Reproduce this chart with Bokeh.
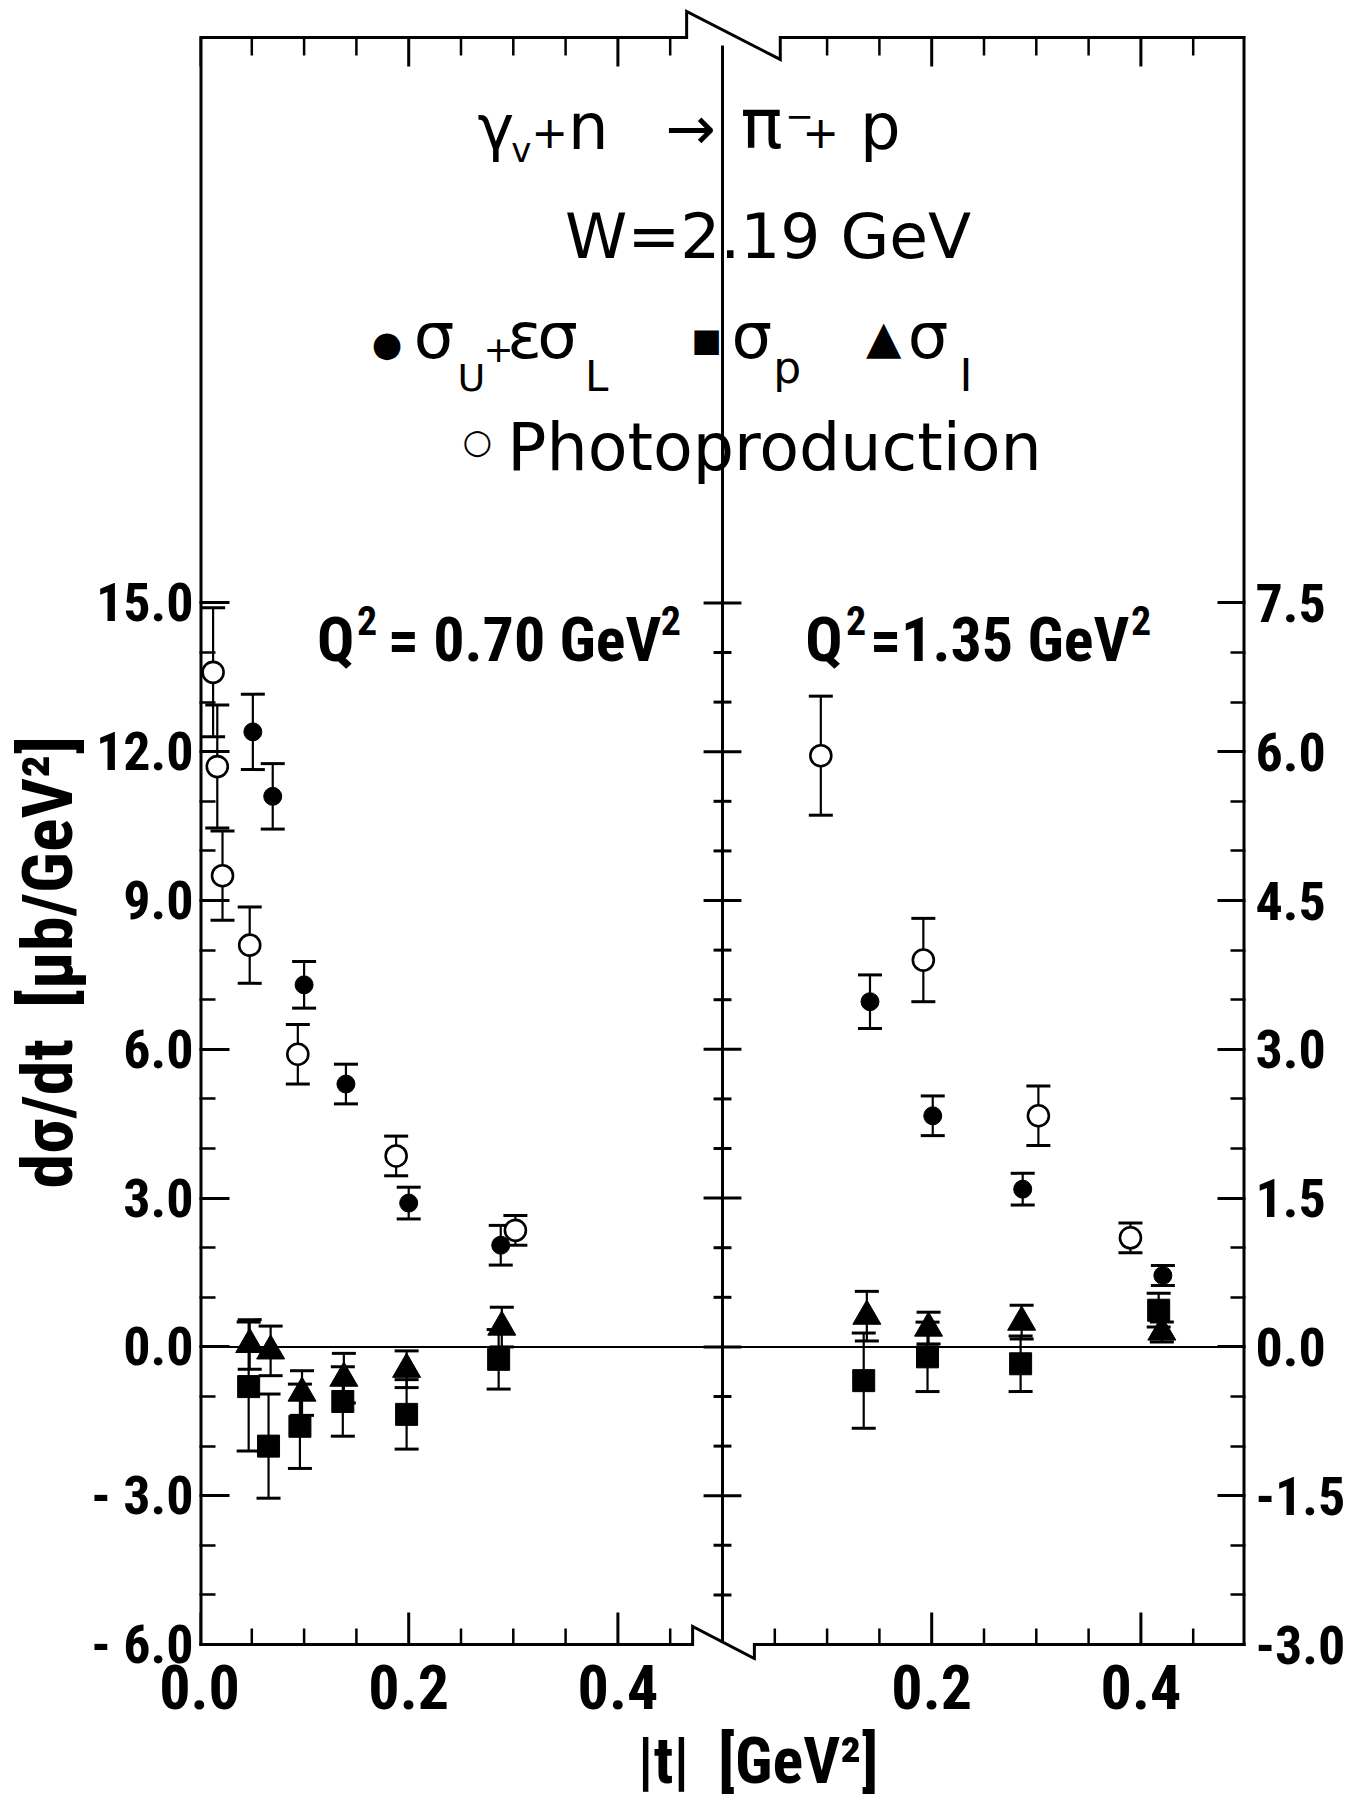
import numpy as np
from bokeh.plotting import figure
from bokeh.models import (Range1d, LinearAxis, FixedTicker, ColumnDataSource, Whisker,
                          TeeHead, Label, Title)
from bokeh.embed import file_html
from bokeh.resources import INLINE

# ---------------- data ----------------
# Q^2 = 0.70 GeV^2  (left panel, units of the left axis, microbarn/GeV^2)
q070_su_t = [0.051, 0.070, 0.100, 0.140, 0.200, 0.288]
q070_su_y = [12.4, 11.1, 7.3, 5.3, 2.9, 2.05]
q070_su_e = [0.76, 0.66, 0.47, 0.40, 0.32, 0.40]

q070_ph_t = [0.013, 0.017, 0.022, 0.048, 0.094, 0.188, 0.302]
q070_ph_y = [13.6, 11.7, 9.5, 8.1, 5.9, 3.85, 2.35]
q070_ph_e = [1.30, 1.24, 0.90, 0.77, 0.60, 0.40, 0.30]

q070_sp_t = [0.047, 0.066, 0.096, 0.137, 0.198, 0.286]
q070_sp_y = [-0.80, -2.00, -1.60, -1.10, -1.36, -0.25]
q070_sp_e = [1.30, 1.05, 0.85, 0.70, 0.70, 0.60]

q070_si_t = [0.048, 0.068, 0.098, 0.138, 0.198, 0.289]
q070_si_y = [0.05, -0.08, -0.93, -0.63, -0.45, 0.40]
q070_si_e = [0.50, 0.50, 0.45, 0.50, 0.37, 0.40]

# Q^2 = 1.35 GeV^2  (right panel, units of the right axis)
q135_su_t = [0.141, 0.201, 0.287, 0.421]
q135_su_y = [3.48, 2.33, 1.59, 0.72]
q135_su_e = [0.27, 0.20, 0.16, 0.10]

q135_ph_t = [0.094, 0.192, 0.302, 0.390]
q135_ph_y = [5.96, 3.90, 2.33, 1.10]
q135_ph_e = [0.60, 0.42, 0.30, 0.15]

q135_sp_t = [0.135, 0.196, 0.285, 0.417]
q135_sp_y = [-0.34, -0.10, -0.17, 0.37]
q135_sp_e = [0.48, 0.35, 0.28, 0.17]

q135_si_t = [0.138, 0.197, 0.286, 0.420]
q135_si_y = [0.31, 0.19, 0.25, 0.15]
q135_si_e = [0.25, 0.16, 0.17, 0.10]

# axes
t_major_left = [0.0, 0.2, 0.4]
t_major_right = [0.2, 0.4]
t_minor = [0.05, 0.10, 0.15, 0.25, 0.30, 0.35, 0.45]
y_left_ticks = [-6, -3, 0, 3, 6, 9, 12, 15]
y_left_labels = ["- 6.0", "- 3.0", "0.0", "3.0", "6.0", "9.0", "12.0", "15.0"]
y_left_minor = [-5, -4, -2, -1, 1, 2, 4, 5, 7, 8, 10, 11, 13, 14]
y_right_ticks = [-3.0, -1.5, 0.0, 1.5, 3.0, 4.5, 6.0, 7.5]
y_right_labels = ["-3.0", "-1.5", "0.0", "1.5", "3.0", "4.5", "6.0", "7.5"]
y_right_minor = [-2.5, -2.0, -1.0, -0.5, 0.5, 1.0, 2.0, 2.5, 3.5, 4.0, 5.0, 5.5, 6.5, 7.0]

# ---------------- layout ----------------
W, H = 1348, 1808
FL, FR, FT, FB = 199, 1249, 37, 1646        # box edges (px)
Y0, Y1 = -6.0, 26.4                          # left-axis values at box bottom / top
EXT_T, EXT_B = 30, 16                        # frame extends beyond the box (px)
XSPAN = FR - FL
YPX = (FB - FT) / (Y1 - Y0)
XM = 0.5                                     # panel break (combined x)


def dx(xf):
    return (xf - FL) / XSPAN


def dy(yf):
    return (FB - yf) / YPX + Y0


def px(n):
    return n / XSPAN


def py(n):
    return n / YPX


YF0, YF1 = Y0 - py(EXT_B), Y1 + py(EXT_T)
FRAME_BOTTOM = FB + EXT_B

COND = "Roboto Condensed, Noto Sans Condensed, DejaVu Sans Condensed, Liberation Sans Narrow, Roboto"
HF = "DejaVu Sans"

p = figure(width=W, height=H, x_range=Range1d(0, 1), y_range=Range1d(YF0, YF1),
           output_backend="svg", toolbar_location=None,
           min_border_left=FL, min_border_right=W - FR,
           min_border_top=FT - EXT_T, min_border_bottom=H - FRAME_BOTTOM)
p.extra_x_ranges = {"xr": Range1d(-0.5, 0.5)}
p.extra_y_ranges = {"yr": Range1d(YF0 / 2, YF1 / 2)}
p.outline_line_color = None
p.xgrid.visible = False
p.ygrid.visible = False
p.background_fill_color = "white"
p.border_fill_color = "white"

# bottom axis (labels only; ticks drawn on the box below)
xticks = t_major_left + [XM + t for t in t_major_right]
xminor = t_minor + [XM + t for t in t_minor]
xl = p.xaxis[0]
xl.ticker = FixedTicker(ticks=xticks, minor_ticks=[])
xl.major_label_overrides = {**{t: f"{t:.1f}" for t in t_major_left},
                            **{XM + t: f"{t:.1f}" for t in t_major_right}}
xl.axis_line_color = None
xl.major_tick_line_color = None
xl.minor_tick_line_color = None
xl.major_tick_in = 0
xl.major_tick_out = 0
xl.major_label_standoff = 4
xl.major_label_text_font = COND
xl.major_label_text_font_style = "bold"
xl.major_label_text_font_size = "62px"
xl.major_label_text_color = "black"


def style_y(ax, standoff):
    ax.axis_line_color = None
    ax.major_tick_out = 0
    ax.minor_tick_out = 0
    ax.major_tick_line_width = 3
    ax.minor_tick_line_width = 2.5
    ax.major_tick_line_color = "black"
    ax.minor_tick_line_color = "black"
    ax.major_label_standoff = standoff
    ax.major_label_text_font = COND
    ax.major_label_text_font_style = "bold"
    ax.major_label_text_font_size = "54px"
    ax.major_label_text_color = "black"


yl = p.yaxis[0]
yl.ticker = FixedTicker(ticks=y_left_ticks, minor_ticks=y_left_minor)
yl.major_label_overrides = dict(zip(y_left_ticks, y_left_labels))
style_y(yl, 6)
yl.major_tick_in = 30
yl.minor_tick_in = 16

yr = LinearAxis(y_range_name="yr",
                ticker=FixedTicker(ticks=y_right_ticks, minor_ticks=y_right_minor))
yr.major_label_overrides = dict(zip(y_right_ticks, y_right_labels))
style_y(yr, 10)
yr.major_tick_in = 28
yr.minor_tick_in = 15
p.add_layout(yr, "right")

# axis titles (align="left" so that offset positions them like the original)
p.add_layout(Title(text="|t|\u2002[GeV²]", align="left", offset=438, standoff=20,
                   text_font=COND, text_font_style="bold", text_font_size="64px",
                   text_color="black"), "below")
p.add_layout(Title(text="dσ/dt\u2002[μb/GeV²]", align="left", offset=FRAME_BOTTOM - 1190,
                   standoff=0, text_font=COND, text_font_style="bold",
                   text_font_size="70px", text_color="black"), "left")

# ---------------- box lines with break marks ----------------
bx0, bx1 = XM - px(36), XM + px(58)
cx0, cx1 = XM - px(30), XM + px(32)
p.multi_line(
    xs=[[0.0, bx0, bx0, bx1, bx1, 1.0], [0.0, cx0, cx0, cx1, cx1, 1.0]],
    ys=[[Y1, Y1, Y1 + py(26), Y1 - py(22), Y1, Y1],
        [Y0, Y0, Y0 + py(18), Y0 - py(14), Y0, Y0]],
    line_color="black", line_width=3, line_join="miter")
# outer verticals sit on the frame edge (half is clipped -> 3 px visible)
p.segment(x0=[0.0, 1.0], y0=[Y0 - py(1.5), Y0 - py(1.5)], x1=[0.0, 1.0],
          y1=[Y1 + py(1.5), Y1 + py(1.5)], line_color="black", line_width=6)
# middle axis
p.segment(x0=[XM], y0=[Y1 - py(8)], x1=[XM], y1=[Y0 + py(2.5)],
          line_color="black", line_width=3)

# bottom / top ticks on the box
top_minor = [m for m in xminor if abs(m - (XM + 0.05)) > 1e-6]
p.segment(x0=xticks, y0=[Y0] * len(xticks), x1=xticks, y1=[Y0 + py(32)] * len(xticks),
          line_color="black", line_width=3)
p.segment(x0=xminor, y0=[Y0] * len(xminor), x1=xminor, y1=[Y0 + py(16)] * len(xminor),
          line_color="black", line_width=2.5)
p.segment(x0=xticks, y0=[Y1] * len(xticks), x1=xticks, y1=[Y1 - py(29)] * len(xticks),
          line_color="black", line_width=3)
p.segment(x0=top_minor, y0=[Y1] * len(top_minor), x1=top_minor,
          y1=[Y1 - py(18)] * len(top_minor), line_color="black", line_width=2.5)

# middle axis ticks (crossing)
mid_major = [v for v in y_left_ticks if v > Y0]
mt_y = mid_major + y_left_minor
mt_h = [px(19)] * len(mid_major) + [px(9)] * len(y_left_minor)
p.segment(x0=[XM - h for h in mt_h], y0=mt_y, x1=[XM + h for h in mt_h], y1=mt_y,
          line_color="black", line_width=3)

# zero line
p.segment(x0=[0.0], y0=[0.0], x1=[1.0], y1=[0.0], line_color="black", line_width=2)


# ---------------- data glyphs ----------------
def errbars(t, y, e, **rng):
    t = np.asarray(t); y = np.asarray(y); e = np.asarray(e)
    src = ColumnDataSource(dict(base=t, lower=y - e, upper=y + e))
    w = Whisker(source=src, base="base", lower="lower", upper="upper", dimension="height",
                line_color="black", line_width=2.2,
                upper_head=TeeHead(size=24, line_width=3, line_color="black"),
                lower_head=TeeHead(size=24, line_width=3, line_color="black"), **rng)
    p.add_layout(w)


R = dict(x_range_name="xr", y_range_name="yr")

for (t, y, e, rng) in [
    (q070_ph_t, q070_ph_y, q070_ph_e, {}), (q070_su_t, q070_su_y, q070_su_e, {}),
    (q070_sp_t, q070_sp_y, q070_sp_e, {}), (q070_si_t, q070_si_y, q070_si_e, {}),
    (q135_ph_t, q135_ph_y, q135_ph_e, R), (q135_su_t, q135_su_y, q135_su_e, R),
    (q135_sp_t, q135_sp_y, q135_sp_e, R), (q135_si_t, q135_si_y, q135_si_e, R),
]:
    errbars(t, y, e, **rng)

for rng, (pt, py_, st, sy, qt, qy, it, iy) in [
    ({}, (q070_ph_t, q070_ph_y, q070_su_t, q070_su_y, q070_sp_t, q070_sp_y, q070_si_t, q070_si_y)),
    (R, (q135_ph_t, q135_ph_y, q135_su_t, q135_su_y, q135_sp_t, q135_sp_y, q135_si_t, q135_si_y)),
]:
    p.scatter(pt, py_, marker="circle", size=21, fill_color="white", line_color="black",
              line_width=2.6, **rng)
    p.scatter(st, sy, marker="circle", size=18, fill_color="black", line_color="black", **rng)
    p.scatter(qt, qy, marker="square", size=22, fill_color="black", line_color="black", **rng)
    p.scatter(it, iy, marker="triangle", size=28, fill_color="black", line_color="black", **rng)

# ---------------- texts ----------------
BASE_FIX = 0.37   # empirical shift so that yf is the visual baseline


def lab(xf, yf, text, size, font=HF, style="normal", align="left"):
    p.add_layout(Label(x=dx(xf), y=dy(yf - BASE_FIX * size), text=text, text_font=font,
                       text_font_size=f"{size}px", text_font_style=style,
                       text_align=align, text_baseline="alphabetic", text_color="black"))


# reaction
lab(478, 150, "γ", 62)
lab(512, 162, "v", 34)
lab(532, 147, "+", 44)
lab(569, 150, "n", 64)
lab(667, 150, "→", 60)
lab(742, 150, "π", 70)
lab(787, 128, "−", 34)
lab(804, 147, "+", 44)
lab(862, 150, "p", 64)
# energy
lab(566, 260, "W=2.19 GeV", 63)
# legend line
lab(372, 357, "●", 35)
lab(414, 360, "σ", 64)
lab(458, 392, "U", 38)
lab(484, 362, "+", 36)
lab(508, 360, "ε", 64)
lab(538, 360, "σ", 64)
lab(586, 392, "L", 42)
lab(693, 352, "■", 32)
lab(733, 360, "σ", 64)
lab(775, 384, "p", 44)
lab(868, 354, "▲", 46)
lab(910, 360, "σ", 64)
lab(962, 392, "I", 44)
lab(463, 454, "○", 34)
lab(508, 472, "Photoproduction", 65)

# panel labels
QS = 62
lab(317, 663, "Q", QS, COND, "bold")
lab(357, 636, "2", 40, COND, "bold")
lab(388, 663, "= 0.70 GeV", QS, COND, "bold")
lab(662, 636, "2", 40, COND, "bold")
lab(807, 663, "Q", QS, COND, "bold")
lab(848, 636, "2", 40, COND, "bold")
lab(872, 663, "=1.35 GeV", QS, COND, "bold")
lab(1134, 636, "2", 40, COND, "bold")

open("out.html", "w").write(file_html(p, INLINE))
